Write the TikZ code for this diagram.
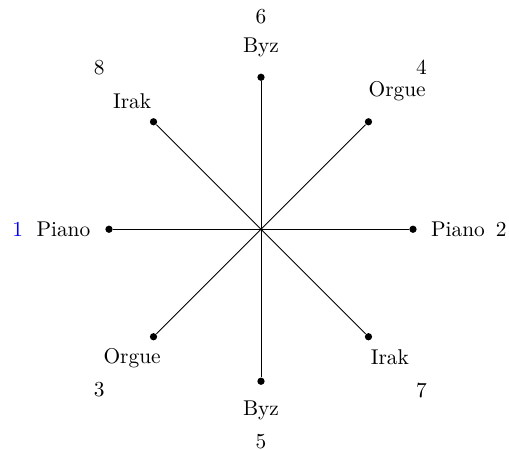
\documentclass[tikz,border=0pt]{standalone}
\usepackage{amsmath, amssymb}
\usepackage{tikz}
\usetikzlibrary{positioning, calc}

\begin{document}
\begin{tikzpicture}[dot/.style={circle, fill, inner sep=0pt, minimum size=3.4pt}]
        \useasboundingbox (-4.293,-3.630) rectangle (4.079,3.771);
        % Centre and end points
        \coordinate (O) at (0, 0);
        \node[dot] (d1) at (180:2.5) {};
        \node[dot] (d2) at (0:2.5)   {};
        \node[dot] (d3) at (225:2.5) {};
        \node[dot] (d4) at (45:2.5)  {};
        \node[dot] (d5) at (270:2.5) {};
        \node[dot] (d6) at (90:2.5)  {};
        \node[dot] (d7) at (315:2.5) {};
        \node[dot] (d8) at (135:2.5) {};

        % Names
        \node[anchor=base] (w1) at (-3.25, -0.12) {Piano};
        \node[anchor=base] (w2) at (3.24, -0.12)  {Piano};
        \node[anchor=base] (w3) at (-2.12, -2.21) {Orgue};
        \node[anchor=base] (w4) at (2.24, 2.18)   {Orgue};
        \node[anchor=base] (w5) at (0, -3.07)     {Byz};
        \node[anchor=base] (w6) at (0, 2.90)      {Byz};
        \node[anchor=base] (w7) at (2.12, -2.23)  {Irak};
        \node[anchor=base] (w8) at (-2.12, 1.98)  {Irak};

        % Numbers
        \node[anchor=base, text=blue] (n1) at (-4.00, -0.12) {1};
        \node[anchor=base] (n2) at (3.95, -0.12)  {2};
        \node[anchor=base] (n3) at (-2.66, -2.75) {3};
        \node[anchor=base] (n4) at (2.64, 2.54)   {4};
        \node[anchor=base] (n5) at (0, -3.60)     {5};
        \node[anchor=base] (n6) at (0, 3.38)      {6};
        \node[anchor=base] (n7) at (2.64, -2.76)  {7};
        \node[anchor=base] (n8) at (-2.66, 2.54)  {8};

        % Spokes
        \foreach \i in {1,...,8}
            \draw (O) -- (d\i);
\end{tikzpicture}
\end{document}
